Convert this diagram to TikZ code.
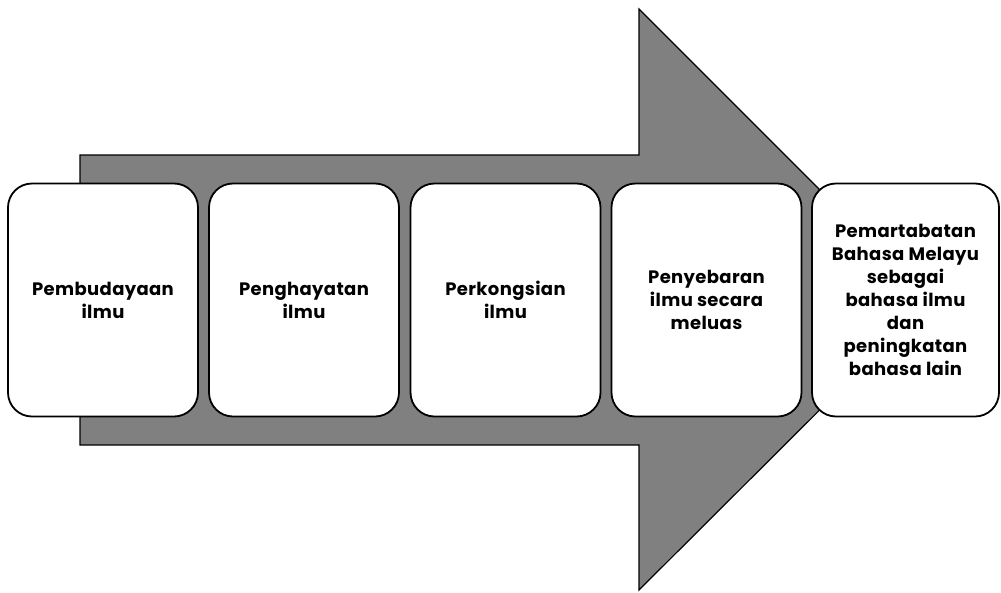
\documentclass[tikz,border=0pt]{standalone}
\usepackage{fontspec}
\setmainfont{Poppins}[LetterSpace=2]
\usepackage{xcolor}
\usepackage{tikz}

\definecolor{arrowgray}{HTML}{808080}

\tikzset{
  stagebox/.style={draw=black, line width=1.8pt, fill=white, rounded corners=24pt,
    minimum width=190pt, minimum height=233pt, align=center,
    font=\fontsize{18}{23}\selectfont\bfseries}
}

\begin{document}
\begin{tikzpicture}[x=1pt,y=-1pt]
\useasboundingbox (0,0) rectangle (1001,592);

% big arrow behind the boxes
\draw[fill=arrowgray, line width=1.2pt, line join=miter]
  (80,155) -- (639,155) -- (639,9) -- (930,300) -- (639,590) -- (639,445) -- (80,445) -- cycle;

\node[stagebox] (budaya) at (103,300) {Pembudayaan\\ilmu};
\node[stagebox] (hayat) at (304,300) {Penghayatan\\ilmu};
\node[stagebox] (kongsi) at (505.5,300) {Perkongsian\\ilmu};
\node[stagebox] (sebar) at (706.5,300) {Penyebaran\\ilmu secara\\meluas};
\node[stagebox, minimum width=187pt] (martabat) at (905.5,300)
  {Pemartabatan\\Bahasa Melayu\\sebagai\\bahasa ilmu\\dan\\peningkatan\\bahasa lain};
\end{tikzpicture}
\end{document}
